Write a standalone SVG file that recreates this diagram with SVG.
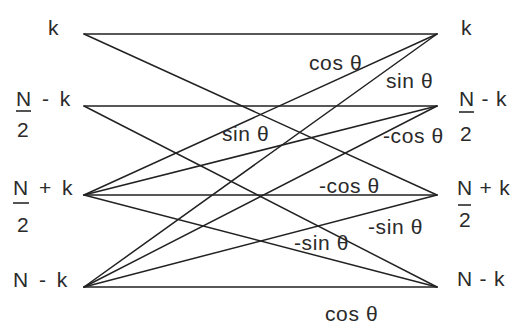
<svg xmlns="http://www.w3.org/2000/svg" width="514" height="324" viewBox="0 0 514 324">
<style>
.t{font-family:"Liberation Sans",Arial,sans-serif;font-size:21px;fill:#2a2a2a;letter-spacing:0.5px;word-spacing:4px}
.r{word-spacing:1px;letter-spacing:0.3px}
.e{font-family:"Liberation Sans",Arial,sans-serif;font-size:21px;fill:#2a2a2a;letter-spacing:0.6px}
.c line{stroke:#222;stroke-width:1.5;stroke-linecap:round}
.u{stroke:#2a2a2a;stroke-width:1.6}
</style>
<rect width="514" height="324" fill="#fff"/>
<g id="connectors" class="c">
<line x1="84" y1="34" x2="437" y2="34"/>
<line x1="84" y1="34" x2="437" y2="195"/>
<line x1="84" y1="106" x2="437" y2="106"/>
<line x1="84" y1="106" x2="437" y2="287"/>
<line x1="84" y1="195" x2="437" y2="34"/>
<line x1="84" y1="195" x2="437" y2="106"/>
<line x1="84" y1="195" x2="437" y2="195"/>
<line x1="84" y1="195" x2="437" y2="287"/>
<line x1="84" y1="287" x2="437" y2="34"/>
<line x1="84" y1="287" x2="437" y2="106"/>
<line x1="84" y1="287" x2="437" y2="195"/>
<line x1="84" y1="287" x2="437" y2="287"/>
</g>
<g id="edge-labels">
<text class="e" x="309" y="70">cos θ</text>
<text class="e" x="386" y="88">sin θ</text>
<text class="e" x="222" y="141">sin θ</text>
<text class="e" x="383" y="143">-cos θ</text>
<text class="e" x="319" y="193">-cos θ</text>
<text class="e" x="368" y="234">-sin θ</text>
<text class="e" x="294" y="250">-sin θ</text>
<text class="e" x="325" y="321">cos θ</text>
</g>
<g id="in-k"><text class="t" x="48" y="35">k</text></g>
<g id="in-n2-minus-k"><text class="t" x="16" y="106">N - k</text><line class="u" x1="16" y1="111" x2="31" y2="111"/><text class="t" x="17" y="137">2</text></g>
<g id="in-n2-plus-k"><text class="t" x="13" y="195">N + k</text><line class="u" x1="13" y1="203" x2="29" y2="203"/><text class="t" x="17" y="232">2</text></g>
<g id="in-n-minus-k"><text class="t" x="13" y="287">N - k</text></g>
<g id="out-k"><text class="t" x="461" y="35">k</text></g>
<g id="out-n2-minus-k"><text class="t r" x="459" y="106">N - k</text><line class="u" x1="459" y1="112" x2="474" y2="112"/><text class="t" x="460" y="141">2</text></g>
<g id="out-n2-plus-k"><text class="t r" x="457" y="195">N + k</text><line class="u" x1="458" y1="205" x2="471" y2="205"/><text class="t" x="459" y="227">2</text></g>
<g id="out-n-minus-k"><text class="t r" x="457" y="286">N - k</text></g>
</svg>
